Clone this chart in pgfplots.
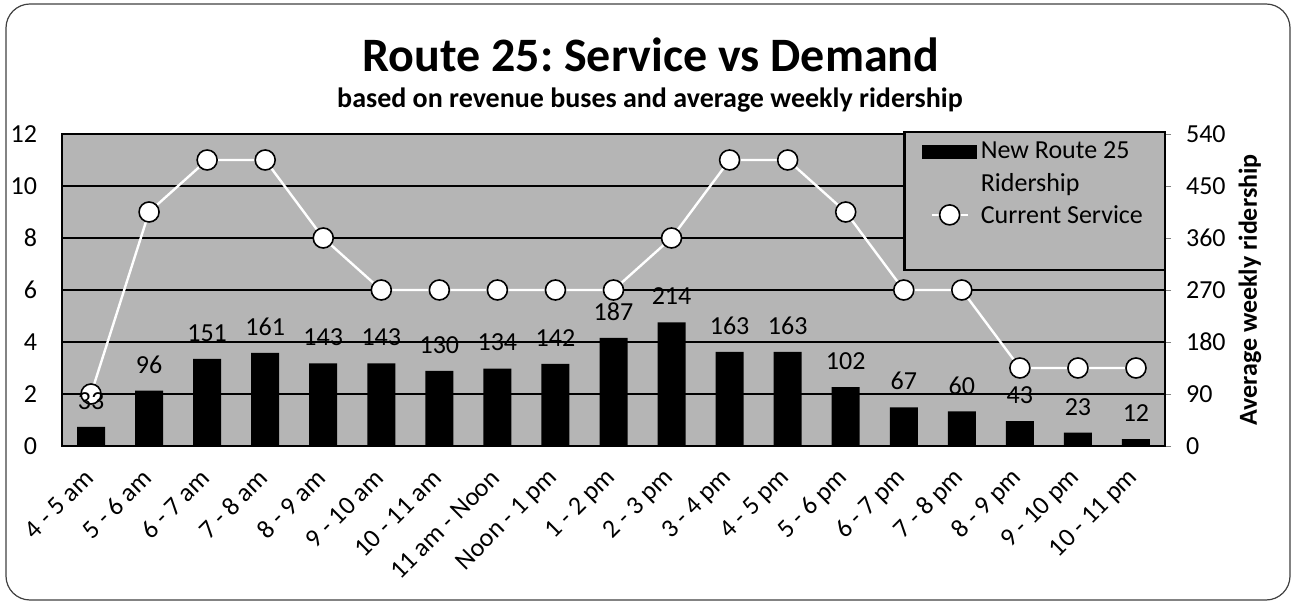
\documentclass[border=0pt]{standalone}
\usepackage{fontspec}
\setmainfont{Carlito}
\usepackage{pgfplots}
\usepackage{pgfplotstable}
\pgfplotsset{compat=1.18}
\pgfkeys{/pgf/number format/assume math mode=true}
\definecolor{plotbg}{gray}{0.71}

\pgfplotstableread{
x rid svc
0 33 2
1 96 9
2 151 11
3 161 11
4 143 8
5 143 6
6 130 6
7 134 6
8 142 6
9 187 6
10 214 8
11 163 11
12 163 11
13 102 9
14 67 6
15 60 6
16 43 3
17 23 3
18 12 3
}\routedata

\newcommand\tfont{\fontsize{13}{16.5}\selectfont}
\frenchspacing

\begin{document}
\begin{tikzpicture}
\pgfplotsset{
  common/.style={
    scale only axis, width=551.5pt, height=156pt,
    xmin=-0.5, xmax=18.5,
  },
  svcline/.style={legend image code/.code={\draw[mark repeat=2, mark phase=2, ##1] plot coordinates {(4pt,9pt) (13pt,9pt) (22pt,9pt)};}},
}
% axis 1: ridership bars on the right axis
\begin{axis}[common,
  ymin=0, ymax=540, ytick={0,90,...,540},
  ytick pos=right, yticklabel pos=right,
  tick align=outside, major tick length=3pt,
  xtick={0,...,18},
  xticklabels={4 - 5 am, 5 - 6 am, 6 - 7 am, 7 - 8 am, 8 - 9 am, 9 - 10 am, 10 - 11 am, 11 am - Noon, Noon - 1 pm, 1 - 2 pm, 2 - 3 pm, 3 - 4 pm, 4 - 5 pm, 5 - 6 pm, 6 - 7 pm, 7 - 8 pm, 8 - 9 pm, 9 - 10 pm, 10 - 11 pm},
  major x tick style=transparent,
  xticklabel style={font=\tfont, anchor=east, xshift=1.5pt, yshift=-8.5pt, rotate=45},
  yticklabel style={font=\tfont, xshift=4pt},
  ymajorgrids, grid style={black, line width=0.9pt},
  axis background/.style={fill=plotbg},
  axis line style={black, line width=0.6pt},
  ylabel={Average weekly ridership},
  ylabel style={font=\bfseries\tfont, at={(axis description cs:1.077,0.5)}, anchor=center},
]
\addplot[ybar, bar width=14pt, fill=black, draw=none] table[x=x, y=rid]{\routedata};
\end{axis}
% axis 2: current service line on the left axis
\begin{axis}[common,
  ymin=0, ymax=12, ytick={0,2,...,12},
  ytick pos=left, hide x axis, axis y line*=left,
  y axis line style={draw=none},
  major tick length=0pt,
  yticklabel style={font=\tfont, xshift=-9pt},
  legend cell align=left,
  legend style={at={(1.001,1.01)}, anchor=north east, fill=plotbg, draw=black, line width=1.2pt,
    font=\tfont, cells={align=left}, inner xsep=9pt, inner ysep=3pt, row sep=1.5pt},
]
\addlegendimage{legend image code/.code={\fill[black] (0pt,5.25pt) rectangle (26pt,11.25pt);}}
\addlegendentry{New Route 25\\Ridership}
\addplot[white, line width=1.2pt, mark=*, mark size=5pt,
  mark options={fill=white, draw=black, line width=0.8pt}, svcline]
  table[x=x, y=svc]{\routedata};
\addlegendentry[text depth=18pt]{Current Service}
\end{axis}
% axis 3: data labels on top
\begin{axis}[common, ymin=0, ymax=540, hide axis]
\addplot[draw=none, mark=none, nodes near coords,
  nodes near coords style={font=\tfont, anchor=center, yshift=13pt, text=black}]
  table[x=x, y=rid]{\routedata};
\end{axis}
\node[font=\bfseries\fontsize{24}{28}\selectfont] at (294.5pt,195.5pt) {Route 25: Service vs Demand};
\node[font=\bfseries\fontsize{14}{17}\selectfont] at (294pt,173pt) {based on revenue buses and average weekly ridership};
\draw[black!75, line width=0.6pt, rounded corners=12pt] (-28pt,-77pt) rectangle (614pt,221pt);
\pgfresetboundingbox
\path[use as bounding box] (-31pt,-81pt) rectangle (615.5pt,223pt);
\end{tikzpicture}
\end{document}
